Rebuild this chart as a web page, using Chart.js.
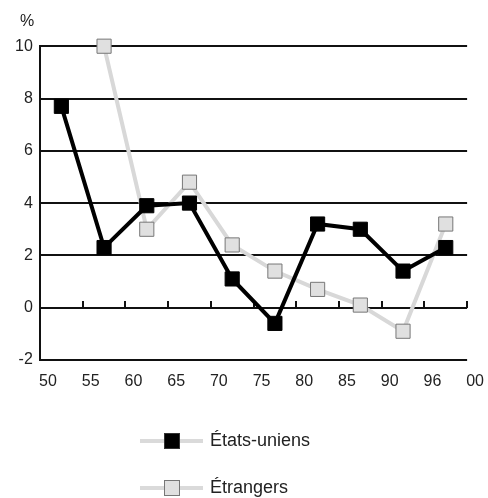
<!DOCTYPE html>
<html lang="fr">
<head>
<meta charset="UTF-8">
<title>États-uniens / Étrangers</title>
<script src="https://cdn.jsdelivr.net/npm/chart.js@4"></script>
<style>
  html, body { margin: 0; padding: 0; background: #fff; overflow: hidden; }
  .wrap { width: 488px; height: 498px; }
</style>
</head>
<body>
<div class="wrap"><canvas id="chart"></canvas></div>
<script>
// tick labels on the period boundaries
const yearLabels = ['50', '55', '60', '65', '70', '75', '80', '85', '90', '96', '00'];
// one value per period (between two boundaries), in %
const etatsUniens = [7.7, 2.3, 3.9, 4.0, 1.1, -0.6, 3.2, 3.0, 1.4, 2.3];
const etrangers = [null, 10, 3.0, 4.8, 2.4, 1.4, 0.7, 0.1, -0.9, 3.2];
const seriesNames = ['États-uniens', 'Étrangers'];

const FONT = "'Liberation Sans', Arial, sans-serif";

// each value sits in the middle of its period
function toPoints(values) {
  return values.map((v, i) => ({ x: i + 0.5, y: v }));
}

// legend marker: grey line with a square on it
function legendIcon(fill, stroke) {
  const c = document.createElement('canvas');
  c.width = 156;
  c.height = 18;
  const g = c.getContext('2d');
  g.strokeStyle = '#dadada';
  g.lineWidth = 4;
  g.beginPath();
  g.moveTo(93, 9);
  g.lineTo(156, 9);
  g.stroke();
  g.fillStyle = fill;
  g.fillRect(118, 2, 14, 14);
  g.strokeStyle = stroke;
  g.lineWidth = 1;
  g.strokeRect(117.5, 1.5, 15, 15);
  return c;
}

const icons = [legendIcon('#000', '#333'), legendIcon('#e0e0e0', '#777')];

new Chart(document.getElementById('chart'), {
  type: 'line',
  data: {
    datasets: [
      {
        label: seriesNames[0],
        data: toPoints(etatsUniens),
        borderColor: '#000',
        borderWidth: 4,
        pointStyle: 'rect',
        pointRadius: 10,
        pointBackgroundColor: '#000',
        pointBorderColor: '#000',
        pointBorderWidth: 1,
        tension: 0,
        clip: false
      },
      {
        label: seriesNames[1],
        data: toPoints(etrangers),
        borderColor: '#d8d8d8',
        borderWidth: 4,
        pointStyle: 'rect',
        pointRadius: 10,
        pointBackgroundColor: '#e0e0e0',
        pointBorderColor: '#777',
        pointBorderWidth: 1,
        tension: 0,
        clip: false
      }
    ]
  },
  options: {
    responsive: true,
    maintainAspectRatio: false,
    animation: false,
    layout: { padding: { left: 20, right: 19, top: 0, bottom: -9 } },
    scales: {
      x: {
        type: 'linear',
        min: 0,
        max: yearLabels.length - 1,
        afterFit: (scale) => { scale.height = 43; },
        grid: { display: false, drawTicks: false },
        border: { display: false },
        ticks: {
          stepSize: 1,
          padding: 12,
          labelOffset: 8,
          color: '#222',
          font: { family: FONT, size: 16 },
          callback: (v) => yearLabels[v]
        }
      },
      // zero line with its small upward ticks
      x0: {
        type: 'linear',
        position: { y: 0 },
        min: 0,
        max: yearLabels.length - 1,
        grid: { drawOnChartArea: false, drawTicks: true, tickLength: -7, color: '#111', lineWidth: 2 },
        border: { display: false },
        ticks: { stepSize: 1, display: false }
      },
      y: {
        min: -2,
        max: 10,
        afterFit: (scale) => { scale.width = 20; },
        grid: { color: '#111', lineWidth: 2, drawTicks: false },
        border: { display: true, color: '#111', width: 2 },
        // mirrored so the labels are not clipped to the narrow axis box
        ticks: {
          stepSize: 2,
          mirror: true,
          crossAlign: 'far',
          padding: -25,
          color: '#222',
          font: { family: FONT, size: 16 }
        }
      }
    },
    plugins: {
      title: {
        display: true,
        text: '%',
        align: 'start',
        color: '#222',
        font: { family: FONT, size: 16, weight: 'normal' },
        padding: { top: 12, bottom: 15 }
      },
      legend: {
        position: 'bottom',
        align: 'start',
        labels: {
          usePointStyle: true,
          pointStyleWidth: 152,
          padding: 29,
          color: '#222',
          font: { family: FONT, size: 18 },
          generateLabels: (chart) => chart.data.datasets.map((ds, i) => ({
            text: ds.label,
            pointStyle: icons[i],
            fillStyle: 'transparent',
            strokeStyle: 'transparent',
            lineWidth: 0,
            hidden: false,
            fontColor: '#222',
            datasetIndex: i
          }))
        }
      },
      tooltip: { enabled: false }
    }
  }
});
</script>
</body>
</html>
